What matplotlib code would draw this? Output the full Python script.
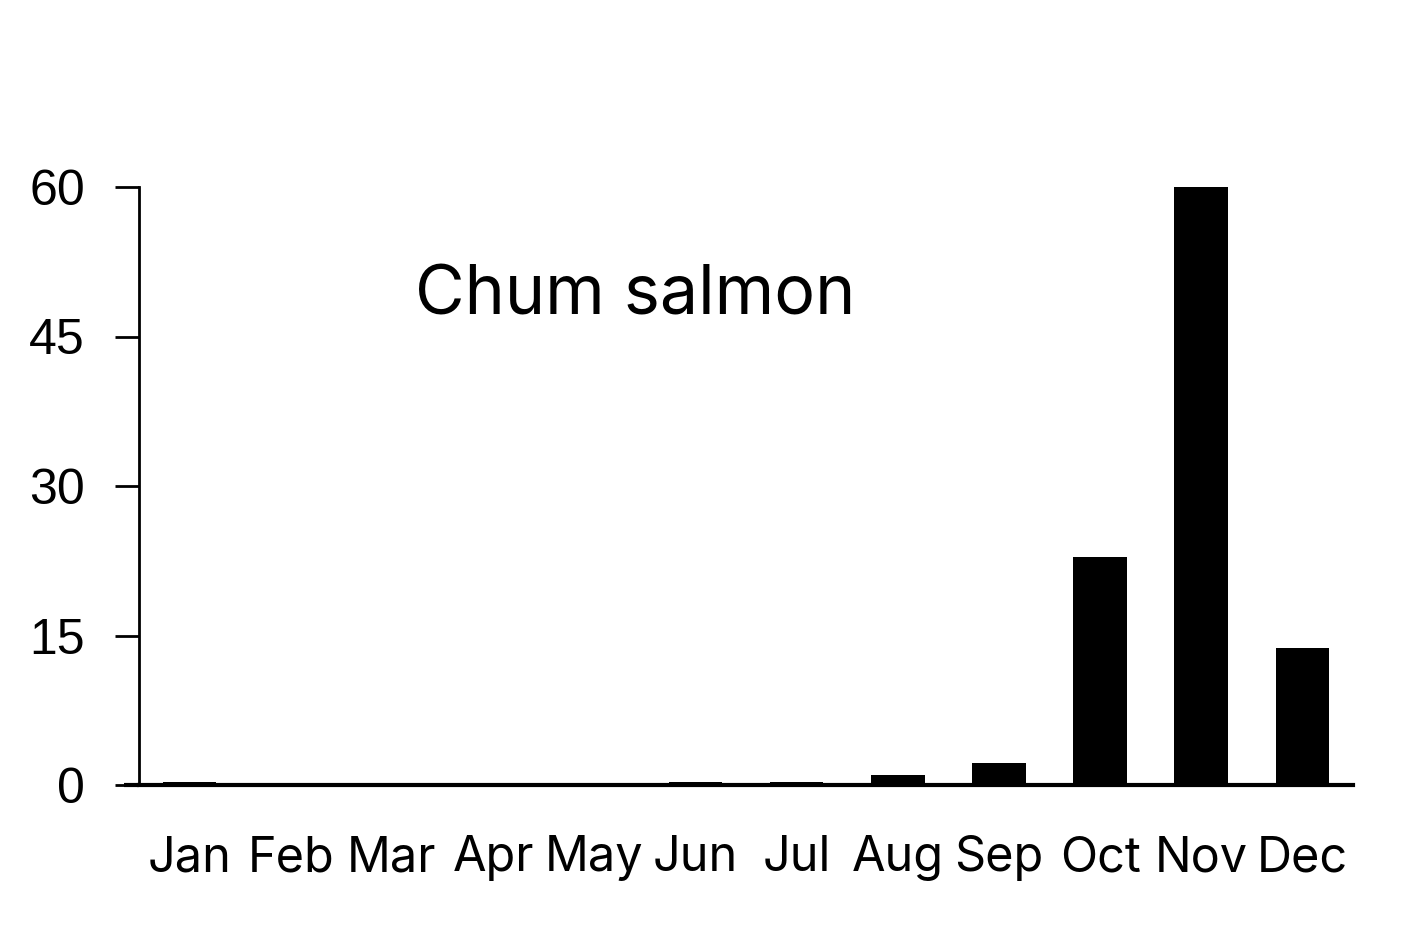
import numpy as np
import matplotlib
matplotlib.use('Agg')
import matplotlib.pyplot as plt

# monthly values
months = ['Jan', 'Feb', 'Mar', 'Apr', 'May', 'Jun',
          'Jul', 'Aug', 'Sep', 'Oct', 'Nov', 'Dec']
values = [0.3, 0.0, 0.0, 0.0, 0.0, 0.3, 0.3, 1.0, 2.2, 22.9, 60.0, 13.7]
yticks = [0, 15, 30, 45, 60]
title = 'Chum salmon'

fig = plt.figure(figsize=(14.11, 9.25), dpi=100)
ax = fig.add_axes([139 / 1411, 1 - 785 / 925, 1214 / 1411, 598 / 925])

x = np.arange(len(months))
ax.bar(x, values, width=0.53, color='black')

ax.set_xlim(-0.5, len(months) - 0.5)
ax.set_ylim(0, 60)

ax.spines['top'].set_visible(False)
ax.spines['right'].set_visible(False)
ax.spines['left'].set_linewidth(2)
ax.spines['bottom'].set_linewidth(3)

ax.set_yticks(yticks)
ax.set_yticklabels([str(t) for t in yticks], fontfamily='Liberation Sans', fontsize=36)
ax.tick_params(axis='y', length=17, width=2, pad=22)

ax.set_xticks(x)
ax.set_xticklabels(months, fontfamily='Inter', fontsize=35)
ax.tick_params(axis='x', length=0, pad=36)

ax.text(0.227, 0.786, title, transform=ax.transAxes, fontfamily='Inter',
        fontsize=49, ha='left', va='baseline')

# horizontal axis line runs a bit past the left spine, like the original
ax.plot([-0.65, -0.5], [0, 0], color='black', lw=3, clip_on=False,
        solid_capstyle='butt')

fig.savefig('out.png', dpi=100)
